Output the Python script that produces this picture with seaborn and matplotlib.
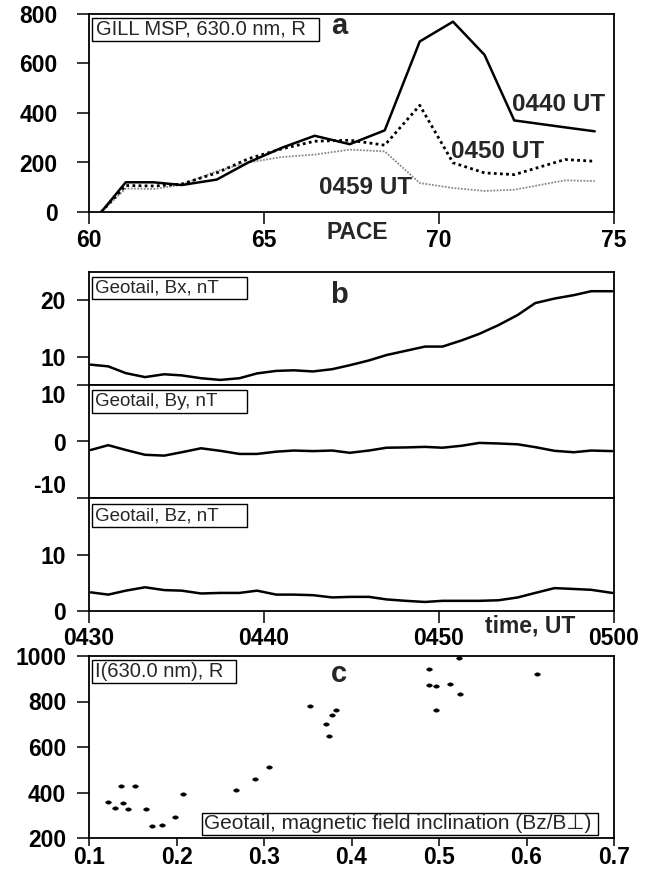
import matplotlib
matplotlib.use("Agg")
import matplotlib.pyplot as plt
import seaborn as sns
import pandas as pd
from matplotlib.patches import Rectangle
from matplotlib.markers import MarkerStyle
from matplotlib.transforms import Affine2D

# ---- panel a: MSP 630.0 nm intensity versus PACE latitude ----
pace_lat = [60.35, 61.05, 61.85, 62.65, 63.65, 64.55, 65.5, 66.45, 67.45,
            68.45, 69.45, 70.4, 71.3, 72.15, 73.6, 74.45]
i_0440 = [0, 120, 120, 109, 131, 200, 259, 308, 274, 330, 689, 769, 635, 370, 342, 326]
i_0450 = [0, 107, 105, 113, 158, 215, 255, 286, 290, 270, 431, 199, 158, 151, 212, 205]
i_0459 = [0, 95, 93, 110, 165, 200, 222, 232, 252, 245, 117, 97, 85, 90, 128, 125]

# ---- panel b: Geotail magnetic field (minutes after 0430 UT) ----
t_min = [0.1, 1.1, 2.1, 3.2, 4.3, 5.3, 6.4, 7.5, 8.6, 9.6, 10.7, 11.7, 12.8, 13.9,
         14.9, 16.0, 17.0, 18.1, 19.2, 20.2, 21.3, 22.3, 23.4, 24.5, 25.5, 26.6,
         27.7, 28.7, 29.9]
bx = [8.6, 8.3, 7.1, 6.4, 6.9, 6.7, 6.2, 5.9, 6.2, 7.05, 7.5, 7.6, 7.4, 7.8, 8.5,
      9.35, 10.3, 11.05, 11.8, 11.8, 12.9, 14.05, 15.6, 17.4, 19.5, 20.3, 20.9,
      21.6, 21.6]
by = [-1.5, -0.65, -1.5, -2.35, -2.5, -1.9, -1.2, -1.65, -2.2, -2.2, -1.8, -1.6,
      -1.7, -1.6, -2.0, -1.6, -1.1, -1.05, -0.95, -1.1, -0.75, -0.25, -0.35, -0.5,
      -1.0, -1.65, -1.9, -1.6, -1.7]
bz = [3.3, 2.9, 3.6, 4.2, 3.7, 3.6, 3.1, 3.2, 3.2, 3.6, 2.9, 2.9, 2.8, 2.4, 2.5,
      2.5, 2.05, 1.8, 1.6, 1.8, 1.8, 1.8, 1.9, 2.4, 3.2, 4.05, 3.9, 3.75, 3.2]
time_ticks = [0, 10, 20, 30]
time_labels = ["0430", "0440", "0450", "0500"]

# ---- panel c: intensity versus field inclination ----
incl = [0.122, 0.130, 0.136, 0.139, 0.145, 0.153, 0.165, 0.172, 0.183, 0.198,
        0.207, 0.268, 0.290, 0.306, 0.352, 0.371, 0.374, 0.378, 0.382, 0.488,
        0.489, 0.496, 0.497, 0.513, 0.523, 0.524, 0.612]
intens = [358, 330, 428, 354, 329, 428, 327, 253, 259, 293, 393, 412, 459, 510,
          781, 702, 650, 742, 763, 944, 873, 870, 763, 877, 990, 833, 919]

sns.set_style("ticks")
plt.rcParams["font.family"] = ["Liberation Sans", "DejaVu Sans"]
plt.rcParams["axes.unicode_minus"] = False

W, H = 650, 872
fig = plt.figure(figsize=(W / 100, H / 100), dpi=100)


def px_axes(left, top, right, bottom):
    return fig.add_axes([left / W, 1 - bottom / H, (right - left) / W, (bottom - top) / H])


TICK_FS = 16.5


def style_axes(ax, ypad=8):
    for s in ax.spines.values():
        s.set_linewidth(1.3)
        s.set_color("black")
    ax.tick_params(direction="out", length=8.5, width=1.1, colors="black",
                   labelsize=TICK_FS)
    ax.tick_params(axis="y", pad=ypad)
    for lab in ax.get_xticklabels() + ax.get_yticklabels():
        lab.set_fontweight("bold")


def label_box(ax, x0, y0, x1, y1, text, tx, fs=13.5):
    ax.add_patch(Rectangle((x0, y0), x1 - x0, y1 - y0, transform=ax.transAxes,
                           fill=True, fc="white", ec="black", lw=1.0, zorder=5))
    ax.text(tx, (y0 + y1) / 2, text, transform=ax.transAxes, fontsize=fs,
            ha="left", va="center", zorder=6)


# ---------------- panel a ----------------
ax_a = px_axes(89, 14, 614, 212)
df_a = pd.DataFrame({"lat": pace_lat, "i0440": i_0440, "i0450": i_0450, "i0459": i_0459})
sns.lineplot(data=df_a, x="lat", y="i0459", ax=ax_a, color="#8a8a8a", lw=1.3,
             linestyle=(0, (1, 0.8)))
sns.lineplot(data=df_a, x="lat", y="i0450", ax=ax_a, color="black", lw=2.0,
             linestyle=(0, (1, 1.2)))
sns.lineplot(data=df_a, x="lat", y="i0440", ax=ax_a, color="black", lw=1.8)
ax_a.set_xlim(60, 75)
ax_a.set_ylim(0, 800)
ax_a.set_xticks([60, 65, 70, 75])
ax_a.set_yticks([0, 200, 400, 600, 800])
ax_a.set_xlabel("")
ax_a.set_ylabel("")
style_axes(ax_a, ypad=14)
ax_a.tick_params(axis="x", pad=4)
ax_a.text(67.66, -0.105, "PACE", transform=ax_a.get_xaxis_transform(),
          fontsize=TICK_FS, fontweight="bold", ha="center", va="center")
label_box(ax_a, 0.005, 0.865, 0.439, 0.982, "GILL MSP, 630.0 nm, R", 0.013, fs=14.5)
ax_a.text(0.477, 0.94, "a", transform=ax_a.transAxes, fontsize=21,
          fontweight="bold", ha="center", va="center")
ax_a.text(72.1, 435, "0440 UT", fontsize=17.5, fontweight="bold", ha="left", va="center")
ax_a.text(70.35, 246, "0450 UT", fontsize=17.5, fontweight="bold", ha="left", va="center")
ax_a.text(66.57, 97, "0459 UT", fontsize=17.5, fontweight="bold", ha="left", va="center")

# ---------------- panel b ----------------
ax_bx = px_axes(89, 272, 614, 385)
ax_by = px_axes(89, 385, 614, 498)
ax_bz = px_axes(89, 498, 614, 611)
df_b = pd.DataFrame({"t": t_min, "Bx": bx, "By": by, "Bz": bz})
panels = [(ax_bx, "Bx", (5, 25), [10, 20]),
          (ax_by, "By", (-10, 10), [-10, 0, 10]),
          (ax_bz, "Bz", (0, 20), [0, 10])]
for ax, comp, ylim, yt in panels:
    sns.lineplot(data=df_b, x="t", y=comp, ax=ax, color="black", lw=1.8)
    ax.set_xlim(0, 30)
    ax.set_ylim(*ylim)
    ax.set_yticks(yt)
    ax.set_yticklabels([str(v) for v in yt])
    ax.set_xticks(time_ticks)
    ax.set_xlabel("")
    ax.set_ylabel("")
    style_axes(ax, ypad=8)

ax_bx.tick_params(axis="x", length=0, labelbottom=False)
ax_by.tick_params(axis="x", length=0, labelbottom=False)
ax_bz.set_xticklabels(time_labels)
for lab in ax_bz.get_xticklabels():
    lab.set_fontweight("bold")
ax_bz.tick_params(axis="x", pad=3)
# "10" and "-10" of By sit just inside the shared boundaries
by_labels = ax_by.get_yticklabels()
by_labels[0].set_va("bottom")
by_labels[2].set_va("top")

label_box(ax_bx, 0.005, 0.76, 0.30, 0.96, "Geotail, Bx, nT", 0.012)
label_box(ax_by, 0.005, 0.75, 0.30, 0.953, "Geotail, By, nT", 0.012)
label_box(ax_bz, 0.005, 0.745, 0.30, 0.945, "Geotail, Bz, nT", 0.012)
ax_bx.text(0.477, 0.80, "b", transform=ax_bx.transAxes, fontsize=21,
           fontweight="bold", ha="center", va="center")
ax_bz.text(25.2, -0.135, "time, UT", transform=ax_bz.get_xaxis_transform(),
           fontsize=TICK_FS, fontweight="bold", ha="center", va="center")

# ---------------- panel c ----------------
ax_c = px_axes(89, 656, 614, 838)
df_c = pd.DataFrame({"incl": incl, "I": intens})
dot = MarkerStyle("o", transform=Affine2D().scale(1.7, 1.0))
sns.scatterplot(data=df_c, x="incl", y="I", ax=ax_c, color="black", s=6,
                marker=dot, edgecolor="black", linewidth=0.3)
ax_c.set_xlim(0.1, 0.7)
ax_c.set_ylim(200, 1000)
ax_c.set_xticks([0.1, 0.2, 0.3, 0.4, 0.5, 0.6, 0.7])
ax_c.set_xticklabels(["0.1", "0.2", "0.3", "0.4", "0.5", "0.6", "0.7"])
ax_c.set_yticks([200, 400, 600, 800, 1000])
ax_c.set_xlabel("")
ax_c.set_ylabel("")
style_axes(ax_c, ypad=8)
ax_c.tick_params(axis="x", pad=0, length=6)
label_box(ax_c, 0.0055, 0.851, 0.28, 0.977, "I(630.0 nm), R", 0.012, fs=14.5)
label_box(ax_c, 0.2145, 0.019, 0.97, 0.139,
          "Geotail, magnetic field inclination (Bz/B\u22a5)", 0.219, fs=15)
ax_c.text(0.477, 0.90, "c", transform=ax_c.transAxes, fontsize=21,
          fontweight="bold", ha="center", va="center")

fig.savefig("out.png", dpi=100)
